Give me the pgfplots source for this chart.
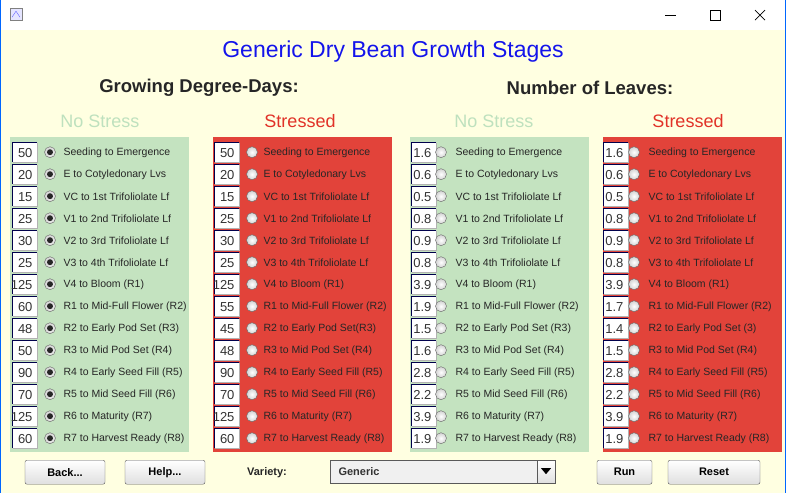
\documentclass[border=0pt]{standalone}
\usepackage{pgfplots}
\pgfplotsset{compat=1.18}
\usepackage{fontspec}
\setmainfont{Liberation Sans}
\definecolor{bgc}{RGB}{255,255,225}
\definecolor{grn}{RGB}{196,227,192}
\definecolor{redp}{RGB}{226,67,58}
\definecolor{ttl}{RGB}{20,20,235}
\definecolor{lgrn}{RGB}{190,225,190}
\definecolor{redt}{RGB}{225,50,40}
\newcommand{\fs}[1]{\fontsize{#1}{#1}\selectfont}
\begin{document}
\begin{tikzpicture}
\begin{axis}[x=1pt,y=1pt,xmin=0,xmax=786,ymin=0,ymax=493,anchor=origin,at={(0,0)},hide axis,clip=false]
\end{axis}
\begin{scope}[x=1pt,y=-1pt,shift={(0,493pt)}]
\fill[bgc] (0,0) rectangle (786,493);
\fill[white] (0,0) rectangle (786,30);
\draw[blue!60!cyan] (0.5,0) -- (0.5,493) (785.5,0)--(785.5,493);
% title bar icon and controls
\draw[gray,fill=blue!10] (10,8) rectangle (22,20);
\draw[blue!60] (12,17) -- (16,11) -- (20,17);
\draw[black,line width=0.7pt] (665,15.5) -- (676,15.5);
\draw[black,line width=0.7pt] (710,10) rectangle (720,20);
\draw[black,line width=0.7pt] (755,10) -- (765,20) (755,20) -- (765,10);
% headings
\node[ttl,font=\fs{23}] at (393,51) {Generic Dry Bean Growth Stages};
\node[black!85,font=\fs{18.5}\bfseries] at (199,88) {Growing Degree-Days:};
\node[black!85,font=\fs{18.5}\bfseries] at (590,88) {Number of Leaves:};
\node[lgrn,font=\fs{18}] at (100,121) {No Stress};
\node[redt,font=\fs{18}] at (300,121) {Stressed};
\node[lgrn,font=\fs{18}] at (494,121) {No Stress};
\node[redt,font=\fs{18}] at (688,121) {Stressed};
% panels
\fill[grn] (10,137) rectangle (189,452);
\fill[redp] (213,137) rectangle (392,452);
\fill[grn] (410,137) rectangle (589,452);
\fill[redp] (603,137) rectangle (782,452);
% panel contents: box left, radio x, label x
\newcommand{\panel}[5]{%
\foreach \v/\t [count=\i from 0] in {#5}{%
 \pgfmathsetmacro{\yy}{152+22*\i}
 \fill[white] (#1,\yy-10) rectangle (#1+25,\yy+10);
 \draw[black!70!blue,line width=0.8pt] (#1+0.5,\yy+10) -- (#1+0.5,\yy-9.5) -- (#1+25,\yy-9.5);
 \draw[gray!60] (#1+25,\yy-9.5) -- (#1+25,\yy+10) -- (#1+0.5,\yy+10);
 \node[anchor=east,font=\fs{13},black!80] at (#1+24,\yy+0.5) {\v};
 \shade[inner color=white,outer color=gray!35] (#2,\yy) circle (5.5);
 \draw[gray!80!black,line width=0.4pt] (#2,\yy) circle (5.5);
 \ifnum#4=1 \fill[black!85] (#2,\yy) circle (3);\fi
 \node[anchor=west,font=\fs{10.5},black!85] at (#3,\yy+0.5) {\t};
}}
\panel{12}{50}{60}{1}{50/Seeding to Emergence,20/E to Cotyledonary Lvs,15/VC to 1st Trifoliolate Lf,25/V1 to 2nd Trifoliolate Lf,30/V2 to 3rd Trifoliolate Lf,25/V3 to 4th Trifoliolate Lf,125/V4 to Bloom (R1),60/R1 to Mid-Full Flower (R2),48/R2 to Early Pod Set (R3),50/R3 to Mid Pod Set (R4),90/R4 to Early Seed Fill (R5),70/R5 to Mid Seed Fill (R6),125/R6 to Maturity (R7),60/R7 to Harvest Ready (R8)}
\panel{214}{252}{260}{0}{50/Seeding to Emergence,20/E to Cotyledonary Lvs,15/VC to 1st Trifoliolate Lf,25/V1 to 2nd Trifoliolate Lf,30/V2 to 3rd Trifoliolate Lf,25/V3 to 4th Trifoliolate Lf,125/V4 to Bloom (R1),55/R1 to Mid-Full Flower (R2),45/R2 to Early Pod Set(R3),48/R3 to Mid Pod Set (R4),90/R4 to Early Seed Fill (R5),70/R5 to Mid Seed Fill (R6),125/R6 to Maturity (R7),60/R7 to Harvest Ready (R8)}
\panel{411}{441}{452}{0}{1.6/Seeding to Emergence,0.6/E to Cotyledonary Lvs,0.5/VC to 1st Trifoliolate Lf,0.8/V1 to 2nd Trifoliolate Lf,0.9/V2 to 3rd Trifoliolate Lf,0.8/V3 to 4th Trifoliolate Lf,3.9/V4 to Bloom (R1),1.9/R1 to Mid-Full Flower (R2),1.5/R2 to Early Pod Set (R3),1.6/R3 to Mid Pod Set (R4),2.8/R4 to Early Seed Fill (R5),2.2/R5 to Mid Seed Fill (R6),3.9/R6 to Maturity (R7),1.9/R7 to Harvest Ready (R8)}
\panel{603}{634}{645}{0}{1.6/Seeding to Emergence,0.6/E to Cotyledonary Lvs,0.5/VC to 1st Trifoliolate Lf,0.8/V1 to 2nd Trifoliolate Lf,0.9/V2 to 3rd Trifoliolate Lf,0.8/V3 to 4th Trifoliolate Lf,3.9/V4 to Bloom (R1),1.7/R1 to Mid-Full Flower (R2),1.4/R2 to Early Pod Set (3),1.5/R3 to Mid Pod Set (R4),2.8/R4 to Early Seed Fill (R5),2.2/R5 to Mid Seed Fill (R6),3.9/R6 to Maturity (R7),1.9/R7 to Harvest Ready (R8)}
% bottom controls
\tikzset{btn/.style={draw=gray!70!black,top color=white,bottom color=gray!25,rounded corners=2pt}}
\draw[btn] (25,460) rectangle (105,484); \node[font=\fs{11}\bfseries] at (65,472) {Back...};
\draw[btn] (125,460) rectangle (205,484); \node[font=\fs{11}\bfseries] at (165,472) {Help...};
\node[font=\fs{11}\bfseries,black!85] at (267,472) {Variety:};
\draw[gray!70!black,fill=gray!12] (330,460) rectangle (555,483);
\node[anchor=west,font=\fs{11}\bfseries,black!80] at (335,471.5) {Generic};
\draw[gray!70!black,top color=white,bottom color=gray!25] (537,460) rectangle (555,483);
\fill[black] (541,468) -- (551,468) -- (546,474) -- cycle;
\draw[btn] (597,460) rectangle (652,484); \node[font=\fs{11}\bfseries] at (624.5,472) {Run};
\draw[btn] (668,460) rectangle (760,484); \node[font=\fs{11}\bfseries] at (714,472) {Reset};
\end{scope}
\end{tikzpicture}
\end{document}
